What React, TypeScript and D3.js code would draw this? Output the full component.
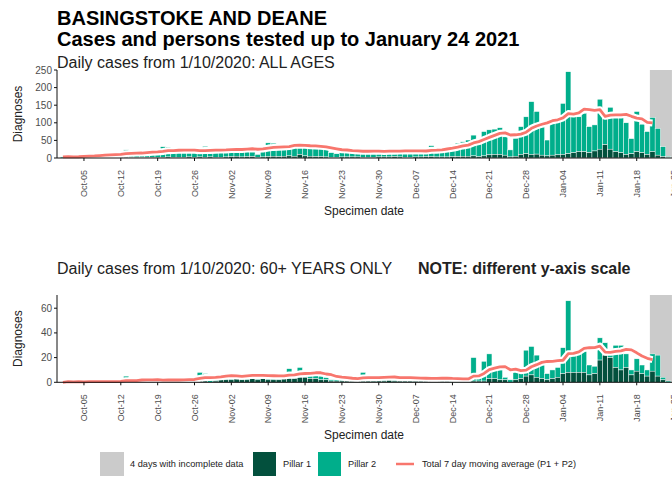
import React from "react";
import * as d3 from "d3";

// ---------- DATA (1 Oct 2020 – 24 Jan 2021, one value per day) ----------
const startDate = "2020-10-01";
const endDate = "2021-01-24";
const incompleteFrom = "2021-01-21";
const maLastDate = "2021-01-21";

const allPillar1 = [
  0,1,0,1,1,1,2,1,1,1,1,2,
  2,1,2,1,2,2,2,
  2,3,2,2,2,3,2,
  3,2,3,2,2,3,4,
  5,3,4,4,2,3,4,
  5,4,5,6,5,10,6,
  5,4,4,3,2,2,3,
  3,3,3,2,2,2,3,
  3,3,4,3,2,2,3,
  3,4,4,3,3,3,4,
  4,5,5,6,4,6,9,
  10,10,8,3,5,10,12,
  10,11,8,6,8,9,10,
  12,15,18,18,15,20,25,
  38,25,18,15,10,12,18,
  15,10,18,8,4,1,
];
const allPillar2 = [
  3,3,2,4,7,8,8,10,11,7,8,12,
  21,14,14,13,13,16,18,
  30,28,16,18,15,15,18,
  19,31,18,22,18,18,22,
  23,26,26,26,8,24,39,
  37,30,30,30,29,22,32,
  30,26,23,22,13,10,17,
  27,15,17,17,13,12,19,
  20,19,17,17,16,14,18,
  19,17,31,19,22,30,33,
  38,41,46,59,47,69,71,
  72,76,52,20,51,79,105,
  150,121,86,45,90,99,145,
  233,107,99,109,74,74,142,
  75,119,107,110,90,43,114,
  81,65,97,76,28,3,
];
const over60Pillar1 = [
  0,0,0,0,0,0,1,0,0,0,0,0,
  0,0,0,0,0,0,1,
  0,1,0,1,0,0,1,
  1,1,0,1,2,2,2,
  3,2,2,3,2,3,2,
  2,2,3,3,3,4,4,
  3,3,2,2,1,1,1,
  1,1,1,1,1,1,1,
  1,2,1,1,1,1,1,
  1,1,1,1,1,1,0,
  0,1,1,1,1,1,3,
  3,2,2,0,2,3,5,
  6,4,3,2,3,4,7,
  8,8,8,8,6,7,18,
  22,20,12,10,12,6,9,
  7,5,9,5,2,0,
];
const over60Pillar2 = [
  0,1,0,1,0,1,0,0,1,0,1,1,
  5,1,1,4,1,1,1,
  2,1,2,2,2,2,2,
  7,6,2,3,3,4,4,
  3,3,3,3,3,3,3,
  3,2,2,8,3,8,3,
  3,4,3,2,1,1,2,
  2,3,2,7,2,1,3,
  3,3,3,3,2,1,2,
  2,3,2,3,3,2,1,
  2,1,2,19,4,16,20,
  7,8,2,2,7,5,21,
  23,18,14,5,7,8,21,
  58,16,17,19,8,6,18,
  10,3,18,20,11,4,10,
  7,5,14,17,2,1,
];

const tickDates = [
  "2020-10-05","2020-10-12","2020-10-19","2020-10-26","2020-11-02","2020-11-09",
  "2020-11-16","2020-11-23","2020-11-30","2020-12-07","2020-12-14","2020-12-21",
  "2020-12-28","2021-01-04","2021-01-11","2021-01-18","2021-01-25",
];
const tickLabels = [
  "Oct-05","Oct-12","Oct-19","Oct-26","Nov-02","Nov-09","Nov-16","Nov-23",
  "Nov-30","Dec-07","Dec-14","Dec-21","Dec-28","Jan-04","Jan-11","Jan-18","Jan-25",
];
const topYTicks = [0, 50, 100, 150, 200, 250];
const bottomYTicks = [0, 20, 40, 60];

const legendItems = ["4 days with incomplete data", "Pillar 1", "Pillar 2", "Total 7 day moving average (P1 + P2)"];

// ---------- STYLE ----------
const FONT = "'Liberation Sans', Arial, Helvetica, sans-serif";
const C_P1 = "#03503d";
const C_P2 = "#00ae8b";
const C_GREY = "#cbcbcb";
const C_LINE = "#f8766d";
const C_TEXT = "#222";
const C_TICK = "#4d4d4d";

const W = 672;
const H = 485;
const AXIS_X = 57;

const parse = (s: string) => new Date(s + "T00:00:00Z");
const days = d3.utcDay.range(parse(startDate), d3.utcDay.offset(parse(endDate), 1));

const x = d3.scaleUtc().domain([parse(startDate), parse(endDate)]).range([62.9, 668.3]);
const bw = x(days[1]) - x(days[0]);

function Panel({ p1, p2, y, yTicks, top }: { p1: number[]; p2: number[]; y: d3.ScaleLinear<number, number>; yTicks: number[]; top: number }) {
  const y0 = y(0);
  const total = p1.map((v, i) => v + p2[i]);
  const lastMA = days.findIndex((d) => +d === +parse(maLastDate));
  const ma = total
    .map((_, i) => ({ d: days[i], v: d3.mean(total.slice(Math.max(0, i - 6), i + 1)) as number }))
    .slice(0, lastMA + 1);
  const line = d3
    .line<{ d: Date; v: number }>()
    .x((p) => x(p.d))
    .y((p) => y(p.v));
  const greyX = x(parse(incompleteFrom)) - bw / 2;
  const greyR = x(parse(endDate)) + bw / 2 + 1;
  return (
    <g>
      <rect x={greyX} y={top} width={greyR - greyX} height={y0 - top} fill={C_GREY} />
      {days.map((d, i) => (
        <g key={i}>
          <rect x={x(d) - bw / 2} y={y(p1[i] + p2[i])} width={bw} height={y(p1[i]) - y(p1[i] + p2[i])} fill={C_P2} stroke="#fff" strokeWidth={0.45} />
          <rect x={x(d) - bw / 2} y={y(p1[i])} width={bw} height={y0 - y(p1[i])} fill={C_P1} stroke="#fff" strokeWidth={0.45} />
        </g>
      ))}
      <path d={line(ma) as string} fill="none" stroke="#fff" strokeWidth={7} strokeLinejoin="round" />
      <path d={line(ma) as string} fill="none" stroke={C_LINE} strokeWidth={2.8} strokeLinejoin="round" />
      {/* axes */}
      <line x1={AXIS_X} x2={AXIS_X} y1={top} y2={y0} stroke="#111" strokeWidth={1} />
      <line x1={AXIS_X} x2={W} y1={y0} y2={y0} stroke="#111" strokeWidth={1} />
      {yTicks.map((t) => (
        <g key={t}>
          <line x1={AXIS_X - 3} x2={AXIS_X} y1={y(t)} y2={y(t)} stroke="#111" />
          <text x={AXIS_X - 5} y={y(t)} dy="0.35em" textAnchor="end" fontSize={10} fill={C_TICK} fontFamily={FONT}>
            {t}
          </text>
        </g>
      ))}
      {tickDates.map((s, i) => {
        const tx = x(parse(s));
        return (
          <g key={s}>
            <line x1={tx} x2={tx} y1={y0} y2={y0 + 3} stroke="#111" />
            <text transform={`translate(${tx},${y0 + 12}) rotate(-90)`} dy="0.35em" textAnchor="end" fontSize={9} fill={C_TICK} fontFamily={FONT}>
              {tickLabels[i]}
            </text>
          </g>
        );
      })}
      <text transform={`translate(22,${(top + y0) / 2}) rotate(-90)`} textAnchor="middle" fontSize={12} fill={C_TEXT} fontFamily={FONT}>
        Diagnoses
      </text>
      <text x={364} y={y0 + 57} textAnchor="middle" fontSize={12} fill={C_TEXT} fontFamily={FONT}>
        Specimen date
      </text>
    </g>
  );
}

export default function App() {
  const yTop = d3.scaleLinear().domain([0, 250]).range([158, 70]);
  const yBot = d3.scaleLinear().domain([0, 70.7]).range([382.3, 295]);
  return (
    <svg width={W} height={H} style={{ position: "absolute", left: 0, top: 0, background: "#fff" }} fontFamily={FONT}>
      <rect width={W} height={H} fill="#fff" />
      <text x={57} y={24.5} fontSize={20} fontWeight="bold" fill="#000">BASINGSTOKE AND DEANE</text>
      <text x={57} y={46} fontSize={20} fontWeight="bold" fill="#000">Cases and persons tested up to January 24 2021</text>
      <text x={57} y={68} fontSize={16} fill={C_TEXT}>Daily cases from 1/10/2020: ALL AGES</text>
      <Panel p1={allPillar1} p2={allPillar2} y={yTop} yTicks={topYTicks} top={70} />
      <text x={57} y={274} fontSize={16} fill={C_TEXT}>Daily cases from 1/10/2020: 60+ YEARS ONLY</text>
      <text x={418} y={274} fontSize={16} fontWeight="bold" fill={C_TEXT}>NOTE: different y-axis scale</text>
      <Panel p1={over60Pillar1} p2={over60Pillar2} y={yBot} yTicks={bottomYTicks} top={295} />
      {/* legend */}
      <g fontSize={9.2} fill={C_TEXT}>
        <rect x={100} y={452} width={24} height={24} fill={C_GREY} />
        <text x={130} y={464} dy="0.35em">{legendItems[0]}</text>
        <rect x={253} y={452} width={23} height={24} fill={C_P1} />
        <text x={283} y={464} dy="0.35em">{legendItems[1]}</text>
        <rect x={318} y={452} width={23} height={24} fill={C_P2} />
        <text x={348} y={464} dy="0.35em">{legendItems[2]}</text>
        <line x1={396} x2={414} y1={464} y2={464} stroke={C_LINE} strokeWidth={2.5} />
        <text x={422} y={464} dy="0.35em">{legendItems[3]}</text>
      </g>
    </svg>
  );
}
